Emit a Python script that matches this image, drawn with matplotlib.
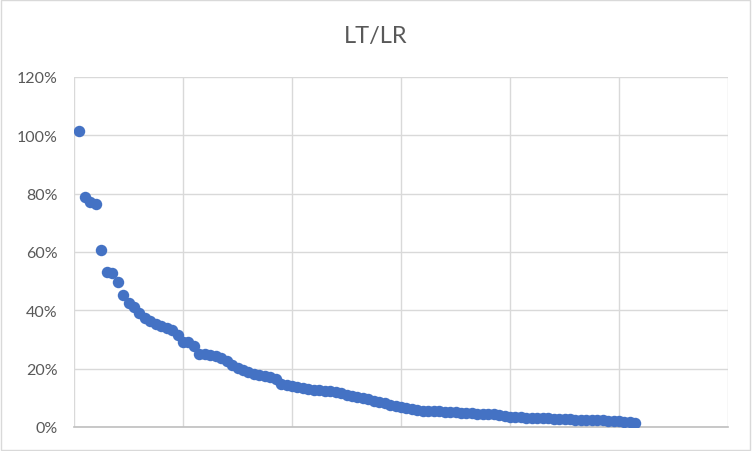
import matplotlib
matplotlib.use("Agg")
import matplotlib.pyplot as plt
from matplotlib.patches import Rectangle
from matplotlib.ticker import PercentFormatter, MultipleLocator

plt.rcParams['font.family'] = ['Lato', 'DejaVu Sans']

title = "LT/LR"
values_pct = [
    101.4, 79.0, 77.0, 76.6, 60.8, 53.0, 52.8, 49.8, 45.4, 42.6,
    41.0, 39.0, 37.5, 36.5, 35.3, 34.6, 34.0, 33.3, 31.5, 29.3,
    29.1, 27.8, 25.2, 25.0, 24.7, 24.3, 23.7, 22.8, 21.3, 20.3,
    19.5, 18.7, 18.2, 17.8, 17.6, 17.0, 16.3, 14.9, 14.3, 14.1,
    13.6, 13.3, 13.0, 12.8, 12.6, 12.5, 12.3, 12.0, 11.6, 11.1,
    10.6, 10.2, 9.9, 9.5, 9.0, 8.6, 8.1, 7.7, 7.3, 6.9,
    6.6, 6.2, 5.8, 5.6, 5.5, 5.4, 5.35, 5.3, 5.2, 5.0,
    4.9, 4.8, 4.7, 4.6, 4.5, 4.4, 4.3, 4.1, 3.9, 3.6,
    3.4, 3.3, 3.2, 3.1, 3.05, 3.0, 2.95, 2.9, 2.8, 2.7,
    2.6, 2.55, 2.5, 2.45, 2.4, 2.35, 2.3, 2.2, 2.0, 1.9,
    1.8, 1.7, 1.5,
]
x_index = list(range(1, len(values_pct) + 1))
y_values = [v / 100 for v in values_pct]

fig = plt.figure(figsize=(7.52, 4.52), dpi=100)
fig.patch.set_facecolor('white')
fig.patches.append(Rectangle((0.001, 0.002), 0.997, 0.995, transform=fig.transFigure,
                             fill=False, edgecolor='#d9d9d9', linewidth=1.0))

ax = fig.add_axes([74/752, (452-428)/452, (728-74)/752, (428-78)/452])
ax.scatter(x_index, y_values, s=68, color='#4472C4', zorder=3, linewidths=0)

ax.set_xlim(0, 120)
ax.set_ylim(0, 1.2)
ax.xaxis.set_major_locator(MultipleLocator(20))
ax.yaxis.set_major_locator(MultipleLocator(0.2))
ax.yaxis.set_major_formatter(PercentFormatter(1.0, decimals=0))
ax.grid(True, color='#d9d9d9', linewidth=1.0, zorder=0)
ax.set_axisbelow(True)
for s in ['top', 'right', 'left']:
    ax.spines[s].set_visible(False)
ax.spines['bottom'].set_color('#bfbfbf')
ax.spines['bottom'].set_linewidth(1.2)
ax.tick_params(axis='x', length=0, labelbottom=False)
ax.tick_params(axis='y', length=0, labelsize=11.5, labelcolor='#595959', pad=12)

fig.text(0.5, 1 - 37/452, title, ha='center', va='center', fontsize=17, color='#595959')

fig.savefig('out.png', dpi=100)
